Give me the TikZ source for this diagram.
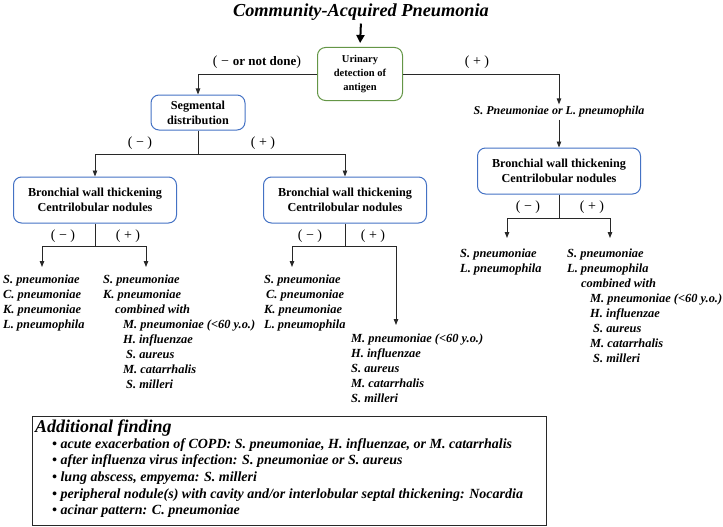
\documentclass[tikz,border=0pt]{standalone}
\usepackage{fontspec}
\setmainfont{Liberation Serif}
\usetikzlibrary{arrows.meta}
\definecolor{boxgreen}{RGB}{100,150,70}
\definecolor{boxblue}{RGB}{68,114,196}
\definecolor{linegray}{RGB}{40,40,40}
\tikzset{
  ln/.style={draw=linegray, line width=0.9pt},
  arr/.style={ln, -{Triangle[length=6pt,width=4.5pt]}},
  bigarr/.style={draw=black, line width=2pt, -{Triangle[length=8pt,width=8pt]}},
  gbox/.style={draw=boxgreen, line width=1pt, rounded corners=8pt, align=center,
    font=\bfseries\fontsize{10.5}{14}\selectfont, inner sep=2pt},
  bbox/.style={draw=boxblue, line width=1pt, rounded corners=8pt, align=center,
    font=\bfseries\fontsize{12.2}{15}\selectfont, inner sep=2pt},
  lbl/.style={font=\fontsize{14}{15}\selectfont, inner sep=0pt},
  lst/.style={anchor=north west, align=left, inner sep=0pt,
    font=\bfseries\itshape\fontsize{12.4}{15}\selectfont},
}
\newcommand{\mn}{(\hspace{3.5pt}−\hspace{3.5pt})}
\newcommand{\pl}{(\hspace{3.5pt}+\hspace{3.5pt})}
\begin{document}
\begin{tikzpicture}[x=1pt,y=-1pt]
\useasboundingbox (0,0) rectangle (723,527);
% title
\node[font=\bfseries\itshape\fontsize{18.3}{20}\selectfont, inner sep=0pt] (title) at (361,12) {Community-Acquired Pneumonia};
% boxes
\node[gbox, minimum width=85pt, minimum height=53pt] (uri) at (360,74) {Urinary\\detection of\\antigen};
\node[bbox, minimum width=94pt, minimum height=35pt] (seg) at (198,112.5) {Segmental\\distribution};
\node[bbox, minimum width=163pt, minimum height=46pt] (bwt1) at (95,200) {Bronchial wall thickening\\Centrilobular nodules};
\node[bbox, minimum width=163pt, minimum height=46pt] (bwt2) at (345,200) {Bronchial wall thickening\\Centrilobular nodules};
\node[bbox, minimum width=163pt, minimum height=46pt] (bwt3) at (559,171) {Bronchial wall thickening\\Centrilobular nodules};
\node[font=\bfseries\itshape\fontsize{12}{13}\selectfont, inner sep=2pt] (splp) at (559,112) {S. Pneumoniae or L. pneumophila};
% labels
\node[lbl] (lnd) at (257,62) {(\hspace{3.5pt}−\hspace{4pt}{\fontsize{13}{15}\selectfont\bfseries or not done})};
\node[lbl] (lpu) at (477,62) {\pl};
\node[lbl] (m1) at (140,143) {\mn};
\node[lbl] (p1) at (263,143) {\pl};
\node[lbl] (m2) at (63,236) {\mn};
\node[lbl] (p2) at (128,236) {\pl};
\node[lbl] (m3) at (310,236) {\mn};
\node[lbl] (p3) at (373,236) {\pl};
\node[lbl] (m4) at (528,207) {\mn};
\node[lbl] (p4) at (592,207) {\pl};
% junctions and arrow tips
\coordinate (j1) at (198,154);
\coordinate (j2) at (95,246);
\coordinate (j3) at (345,246);
\coordinate (j4) at (559,218);
\coordinate (t1) at (42,267);
\coordinate (t2) at (146,267);
\coordinate (t3) at (292,267);
\coordinate (t4) at (396,325);
\coordinate (t5) at (507,238);
\coordinate (t6) at (610,238);
% lists
\node[lst] (l1) at (3,275) {S. pneumoniae\\C. pneumoniae\\K. pneumoniae\\L. pneumophila};
\node[lst] (l2) at (103,275) {S. pneumoniae\\K. pneumoniae\\\hspace*{12pt}combined with\\\hspace*{20pt}M. pneumoniae (<60 y.o.)\\\hspace*{20pt}H. influenzae\\\hspace*{23pt}S. aureus\\\hspace*{20pt}M. catarrhalis\\\hspace*{23pt}S. milleri};
\node[lst] (l3) at (264,275) {S. pneumoniae\\\hspace*{2pt}C. pneumoniae\\K. pneumoniae\\L. pneumophila};
\node[lst] (l4) at (351,334) {M. pneumoniae (<60 y.o.)\\H. influenzae\\S. aureus\\M. catarrhalis\\S. milleri};
\node[lst] (l5) at (460,249) {S. pneumoniae\\L. pneumophila};
\node[lst] (l6) at (567,249) {S. pneumoniae\\L. pneumophila\\\hspace*{14pt}combined with\\\hspace*{23pt}M. pneumoniae (<60 y.o.)\\\hspace*{23pt}H. influenzae\\\hspace*{26pt}S. aureus\\\hspace*{23pt}M. catarrhalis\\\hspace*{26pt}S. milleri};
% connectors
\draw[bigarr, shorten <=3pt, shorten >=4pt] (title.south) -- (uri.north);
\draw[arr] (uri.west) -| (seg.north);
\draw[arr] (uri.east) -| (splp.north);
\draw[arr] (splp.south) -- (bwt3.north);
\draw[ln] (seg.south) -- (j1);
\draw[arr] (j1) -| (bwt1.north);
\draw[arr] (j1) -| (bwt2.north);
\draw[ln] (bwt1.south) -- (j2);
\draw[arr] (j2) -| (t1);
\draw[arr] (j2) -| (t2);
\draw[ln] (bwt2.south) -- (j3);
\draw[arr] (j3) -| (t3);
\draw[arr] (j3) -| (t4);
\draw[ln] (bwt3.south) -- (j4);
\draw[arr] (j4) -| (t5);
\draw[arr] (j4) -| (t6);
% additional finding box
\node[draw=linegray, line width=1.2pt, anchor=north west, minimum width=514pt, minimum height=109pt, inner sep=0pt] (addbox) at (32,416) {};
\node[anchor=west, inner sep=0pt, font=\bfseries\itshape\fontsize{18}{20}\selectfont] (addh) at (35,428) {Additional finding};
\node[lst, font=\bfseries\itshape\fontsize{14}{16.7}\selectfont] (addl) at (52,438) {%
• acute exacerbation of COPD: S. pneumoniae, H. influenzae, or M. catarrhalis\\
• after influenza virus infection: S. pneumoniae or S. aureus\\
• lung abscess, empyema: S. milleri\\
• peripheral nodule(s) with cavity and/or interlobular septal thickening: Nocardia\\
• acinar pattern: C. pneumoniae};
\end{tikzpicture}
\end{document}
